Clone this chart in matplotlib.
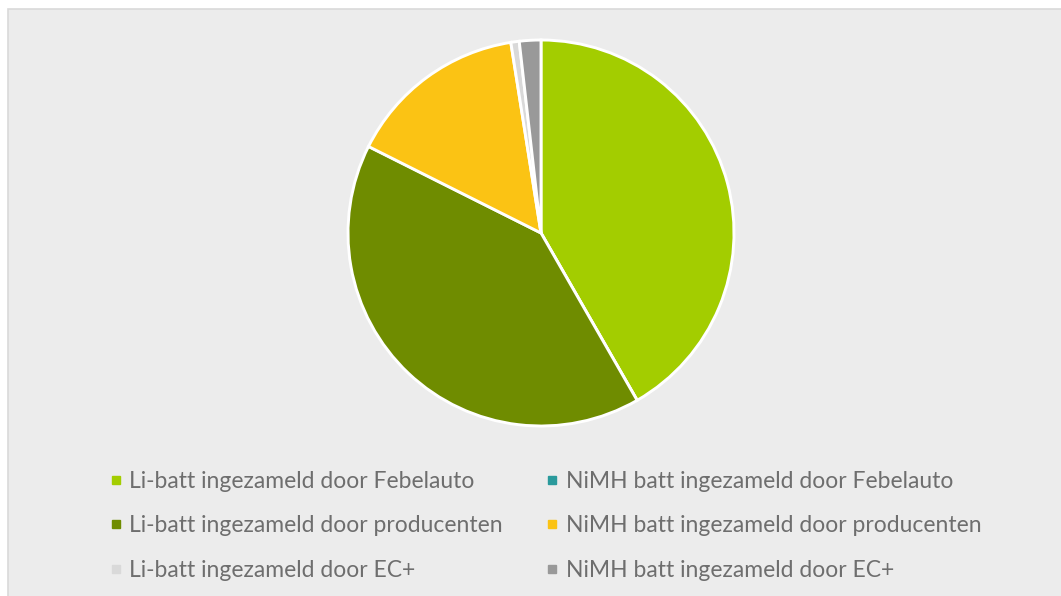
import matplotlib.pyplot as plt
from matplotlib.patches import Rectangle
from matplotlib.lines import Line2D

labels = [
    "Li-batt ingezameld door Febelauto",
    "NiMH batt ingezameld door Febelauto",
    "Li-batt ingezameld door producenten",
    "NiMH batt ingezameld door producenten",
    "Li-batt ingezameld door EC+",
    "NiMH batt ingezameld door EC+",
]
values = [41.7, 0.0, 40.7, 15.1, 0.7, 1.8]
colors = ["#a3cd00", "#2a9a9c", "#6f8c00", "#fbc314", "#d9d9d9", "#999999"]

W, H = 1061, 596
fig = plt.figure(figsize=(W / 100, H / 100), dpi=100, facecolor="white")

# grey chart area with thin border
fig.patches.append(Rectangle((8 / W, -0.05), 1.1, (H - 9) / H + 0.05,
                             transform=fig.transFigure, facecolor="#ececec",
                             edgecolor="#d9d9d9", linewidth=1.2, zorder=-10))

cx, cy, r = 541, 233, 193
ax = fig.add_axes([(cx - r) / W, (H - cy - r) / H, 2 * r / W, 2 * r / H])
ax.set_zorder(1)
ax.pie(values, colors=colors, startangle=90, counterclock=False,
       wedgeprops=dict(edgecolor="white", linewidth=2.1), radius=1.0)
ax.set_xlim(-1, 1)
ax.set_ylim(-1, 1)
ax.set_aspect("equal")
ax.axis("off")

handles = [Line2D([], [], marker="s", linestyle="none", markersize=6,
                  markerfacecolor=c, markeredgecolor=c) for c in colors]
order = [0, 2, 4, 1, 3, 5]
leg = fig.legend([handles[i] for i in order], [labels[i] for i in order],
                 ncol=2, loc="upper left", bbox_to_anchor=(88 / W, (H - 450) / H),
                 frameon=False, handlelength=0.6, handletextpad=0.3,
                 columnspacing=1.85, labelspacing=1.03,
                 prop={"family": "Lato", "size": 16.5})
leg.set_zorder(2)
for t in leg.get_texts():
    t.set_color("#6e6e6e")

fig.savefig("out.png", dpi=100, facecolor="white")
